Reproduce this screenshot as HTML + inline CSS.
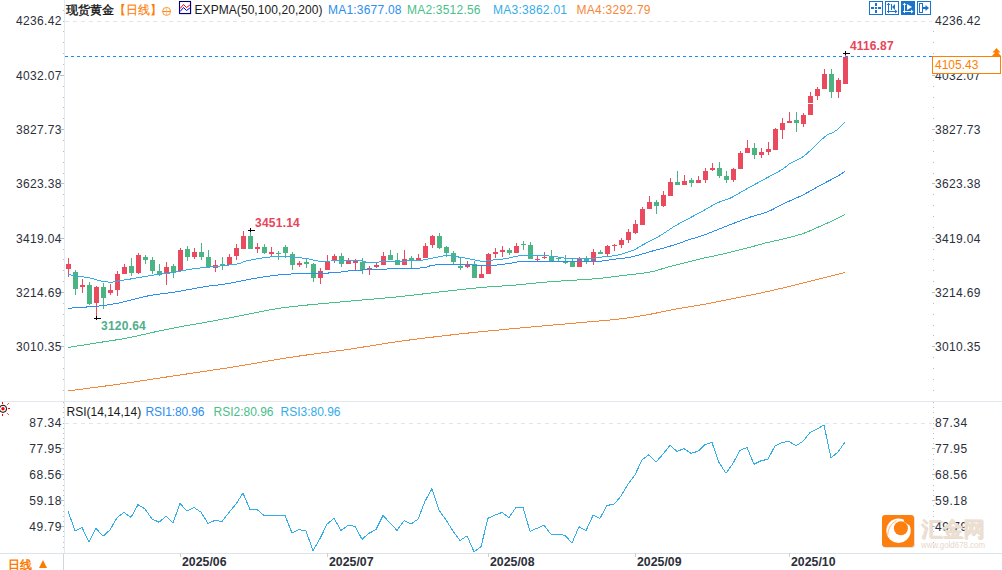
<!DOCTYPE html><html><head><meta charset="utf-8"><style>html,body{margin:0;padding:0;background:#fff;overflow:hidden}svg{display:block}text{font-family:"Liberation Sans",sans-serif}</style></head><body>
<svg width="1002" height="570" viewBox="0 0 1002 570">
<rect width="1002" height="570" fill="#fff"/>
<g shape-rendering="crispEdges">
<rect x="64" y="0" width="1" height="553" fill="#e3e8ee"/>
<rect x="63" y="554" width="1" height="16" fill="#cfd6de"/>
<rect x="0" y="401" width="1002" height="1" fill="#e3e8ee"/>
<rect x="0" y="553" width="1002" height="1" fill="#dde3ea"/>
<line x1="65" y1="21.5" x2="932" y2="21.5" stroke="#e2e6ea" stroke-width="1" stroke-dasharray="4,4"/>
<line x1="65" y1="423.5" x2="932" y2="423.5" stroke="#e2e6ea" stroke-width="1" stroke-dasharray="4,4"/>
<rect x="63" y="21" width="1" height="1" fill="#b8bec6"/>
<rect x="63" y="31" width="1" height="1" fill="#b8bec6"/>
<rect x="63" y="42" width="1" height="1" fill="#b8bec6"/>
<rect x="63" y="53" width="1" height="1" fill="#b8bec6"/>
<rect x="63" y="64" width="1" height="1" fill="#b8bec6"/>
<rect x="63" y="75" width="1" height="1" fill="#b8bec6"/>
<rect x="63" y="86" width="1" height="1" fill="#b8bec6"/>
<rect x="63" y="97" width="1" height="1" fill="#b8bec6"/>
<rect x="63" y="107" width="1" height="1" fill="#b8bec6"/>
<rect x="63" y="118" width="1" height="1" fill="#b8bec6"/>
<rect x="63" y="129" width="1" height="1" fill="#b8bec6"/>
<rect x="63" y="140" width="1" height="1" fill="#b8bec6"/>
<rect x="63" y="151" width="1" height="1" fill="#b8bec6"/>
<rect x="63" y="162" width="1" height="1" fill="#b8bec6"/>
<rect x="63" y="173" width="1" height="1" fill="#b8bec6"/>
<rect x="63" y="183" width="1" height="1" fill="#b8bec6"/>
<rect x="63" y="194" width="1" height="1" fill="#b8bec6"/>
<rect x="63" y="205" width="1" height="1" fill="#b8bec6"/>
<rect x="63" y="216" width="1" height="1" fill="#b8bec6"/>
<rect x="63" y="227" width="1" height="1" fill="#b8bec6"/>
<rect x="63" y="238" width="1" height="1" fill="#b8bec6"/>
<rect x="63" y="249" width="1" height="1" fill="#b8bec6"/>
<rect x="63" y="259" width="1" height="1" fill="#b8bec6"/>
<rect x="63" y="270" width="1" height="1" fill="#b8bec6"/>
<rect x="63" y="281" width="1" height="1" fill="#b8bec6"/>
<rect x="63" y="292" width="1" height="1" fill="#b8bec6"/>
<rect x="63" y="303" width="1" height="1" fill="#b8bec6"/>
<rect x="63" y="314" width="1" height="1" fill="#b8bec6"/>
<rect x="63" y="325" width="1" height="1" fill="#b8bec6"/>
<rect x="63" y="335" width="1" height="1" fill="#b8bec6"/>
<rect x="63" y="346" width="1" height="1" fill="#b8bec6"/>
<rect x="63" y="357" width="1" height="1" fill="#b8bec6"/>
<rect x="63" y="368" width="1" height="1" fill="#b8bec6"/>
<rect x="63" y="379" width="1" height="1" fill="#b8bec6"/>
<rect x="63" y="390" width="1" height="1" fill="#b8bec6"/>
<rect x="63" y="10" width="1" height="1" fill="#b8bec6"/>
<rect x="63" y="423" width="1" height="1" fill="#b8bec6"/>
<rect x="63" y="428" width="1" height="1" fill="#b8bec6"/>
<rect x="63" y="433" width="1" height="1" fill="#b8bec6"/>
<rect x="63" y="438" width="1" height="1" fill="#b8bec6"/>
<rect x="63" y="443" width="1" height="1" fill="#b8bec6"/>
<rect x="63" y="448" width="1" height="1" fill="#b8bec6"/>
<rect x="63" y="454" width="1" height="1" fill="#b8bec6"/>
<rect x="63" y="459" width="1" height="1" fill="#b8bec6"/>
<rect x="63" y="464" width="1" height="1" fill="#b8bec6"/>
<rect x="63" y="469" width="1" height="1" fill="#b8bec6"/>
<rect x="63" y="474" width="1" height="1" fill="#b8bec6"/>
<rect x="63" y="479" width="1" height="1" fill="#b8bec6"/>
<rect x="63" y="485" width="1" height="1" fill="#b8bec6"/>
<rect x="63" y="490" width="1" height="1" fill="#b8bec6"/>
<rect x="63" y="495" width="1" height="1" fill="#b8bec6"/>
<rect x="63" y="500" width="1" height="1" fill="#b8bec6"/>
<rect x="63" y="505" width="1" height="1" fill="#b8bec6"/>
<rect x="63" y="511" width="1" height="1" fill="#b8bec6"/>
<rect x="63" y="516" width="1" height="1" fill="#b8bec6"/>
<rect x="63" y="521" width="1" height="1" fill="#b8bec6"/>
<rect x="63" y="526" width="1" height="1" fill="#b8bec6"/>
<rect x="63" y="531" width="1" height="1" fill="#b8bec6"/>
<rect x="63" y="536" width="1" height="1" fill="#b8bec6"/>
<rect x="63" y="542" width="1" height="1" fill="#b8bec6"/>
<rect x="63" y="547" width="1" height="1" fill="#b8bec6"/>
<rect x="63" y="417" width="1" height="1" fill="#b8bec6"/>
<rect x="63" y="412" width="1" height="1" fill="#b8bec6"/>
<rect x="63" y="407" width="1" height="1" fill="#b8bec6"/>
<rect x="63" y="402" width="1" height="1" fill="#b8bec6"/>
<rect x="933" y="31" width="1" height="1" fill="#b8bec6"/>
<rect x="933" y="42" width="1" height="1" fill="#b8bec6"/>
<rect x="933" y="53" width="1" height="1" fill="#b8bec6"/>
<rect x="933" y="64" width="1" height="1" fill="#b8bec6"/>
<rect x="933" y="75" width="1" height="1" fill="#b8bec6"/>
<rect x="933" y="86" width="1" height="1" fill="#b8bec6"/>
<rect x="933" y="97" width="1" height="1" fill="#b8bec6"/>
<rect x="933" y="107" width="1" height="1" fill="#b8bec6"/>
<rect x="933" y="118" width="1" height="1" fill="#b8bec6"/>
<rect x="933" y="129" width="1" height="1" fill="#b8bec6"/>
<rect x="933" y="140" width="1" height="1" fill="#b8bec6"/>
<rect x="933" y="151" width="1" height="1" fill="#b8bec6"/>
<rect x="933" y="162" width="1" height="1" fill="#b8bec6"/>
<rect x="933" y="173" width="1" height="1" fill="#b8bec6"/>
<rect x="933" y="183" width="1" height="1" fill="#b8bec6"/>
<rect x="933" y="194" width="1" height="1" fill="#b8bec6"/>
<rect x="933" y="205" width="1" height="1" fill="#b8bec6"/>
<rect x="933" y="216" width="1" height="1" fill="#b8bec6"/>
<rect x="933" y="227" width="1" height="1" fill="#b8bec6"/>
<rect x="933" y="238" width="1" height="1" fill="#b8bec6"/>
<rect x="933" y="249" width="1" height="1" fill="#b8bec6"/>
<rect x="933" y="259" width="1" height="1" fill="#b8bec6"/>
<rect x="933" y="270" width="1" height="1" fill="#b8bec6"/>
<rect x="933" y="281" width="1" height="1" fill="#b8bec6"/>
<rect x="933" y="292" width="1" height="1" fill="#b8bec6"/>
<rect x="933" y="303" width="1" height="1" fill="#b8bec6"/>
<rect x="933" y="314" width="1" height="1" fill="#b8bec6"/>
<rect x="933" y="325" width="1" height="1" fill="#b8bec6"/>
<rect x="933" y="335" width="1" height="1" fill="#b8bec6"/>
<rect x="933" y="346" width="1" height="1" fill="#b8bec6"/>
<rect x="933" y="357" width="1" height="1" fill="#b8bec6"/>
<rect x="933" y="368" width="1" height="1" fill="#b8bec6"/>
<rect x="933" y="379" width="1" height="1" fill="#b8bec6"/>
<rect x="933" y="390" width="1" height="1" fill="#b8bec6"/>
<rect x="933" y="423" width="1" height="1" fill="#b8bec6"/>
<rect x="933" y="428" width="1" height="1" fill="#b8bec6"/>
<rect x="933" y="433" width="1" height="1" fill="#b8bec6"/>
<rect x="933" y="438" width="1" height="1" fill="#b8bec6"/>
<rect x="933" y="443" width="1" height="1" fill="#b8bec6"/>
<rect x="933" y="448" width="1" height="1" fill="#b8bec6"/>
<rect x="933" y="454" width="1" height="1" fill="#b8bec6"/>
<rect x="933" y="459" width="1" height="1" fill="#b8bec6"/>
<rect x="933" y="464" width="1" height="1" fill="#b8bec6"/>
<rect x="933" y="469" width="1" height="1" fill="#b8bec6"/>
<rect x="933" y="474" width="1" height="1" fill="#b8bec6"/>
<rect x="933" y="479" width="1" height="1" fill="#b8bec6"/>
<rect x="933" y="485" width="1" height="1" fill="#b8bec6"/>
<rect x="933" y="490" width="1" height="1" fill="#b8bec6"/>
<rect x="933" y="495" width="1" height="1" fill="#b8bec6"/>
<rect x="933" y="500" width="1" height="1" fill="#b8bec6"/>
<rect x="933" y="505" width="1" height="1" fill="#b8bec6"/>
<rect x="933" y="511" width="1" height="1" fill="#b8bec6"/>
<rect x="933" y="516" width="1" height="1" fill="#b8bec6"/>
<rect x="933" y="521" width="1" height="1" fill="#b8bec6"/>
<rect x="933" y="526" width="1" height="1" fill="#b8bec6"/>
<rect x="933" y="531" width="1" height="1" fill="#b8bec6"/>
<rect x="933" y="536" width="1" height="1" fill="#b8bec6"/>
<rect x="933" y="542" width="1" height="1" fill="#b8bec6"/>
<rect x="933" y="547" width="1" height="1" fill="#b8bec6"/>
<rect x="933" y="417" width="1" height="1" fill="#b8bec6"/>
<rect x="933" y="412" width="1" height="1" fill="#b8bec6"/>
<rect x="933" y="407" width="1" height="1" fill="#b8bec6"/>
<rect x="933" y="402" width="1" height="1" fill="#b8bec6"/>
</g>
<text x="61.5" y="25.3" font-size="12" fill="#2b2f3a" text-anchor="end" textLength="45.5" lengthAdjust="spacing">4236.42</text>
<text x="935" y="25.3" font-size="12" fill="#2b2f3a" textLength="45.5" lengthAdjust="spacing">4236.42</text>
<rect x="60" y="75" width="3" height="1" fill="#b8bec6" shape-rendering="crispEdges"/>
<text x="61.5" y="79.6" font-size="12" fill="#2b2f3a" text-anchor="end" textLength="45.5" lengthAdjust="spacing">4032.07</text>
<rect x="932" y="75" width="3" height="1" fill="#b8bec6" shape-rendering="crispEdges"/>
<text x="935" y="79.6" font-size="12" fill="#2b2f3a" textLength="45.5" lengthAdjust="spacing">4032.07</text>
<rect x="60" y="129" width="3" height="1" fill="#b8bec6" shape-rendering="crispEdges"/>
<text x="61.5" y="133.9" font-size="12" fill="#2b2f3a" text-anchor="end" textLength="45.5" lengthAdjust="spacing">3827.73</text>
<rect x="932" y="129" width="3" height="1" fill="#b8bec6" shape-rendering="crispEdges"/>
<text x="935" y="133.9" font-size="12" fill="#2b2f3a" textLength="45.5" lengthAdjust="spacing">3827.73</text>
<rect x="60" y="183" width="3" height="1" fill="#b8bec6" shape-rendering="crispEdges"/>
<text x="61.5" y="188.2" font-size="12" fill="#2b2f3a" text-anchor="end" textLength="45.5" lengthAdjust="spacing">3623.38</text>
<rect x="932" y="183" width="3" height="1" fill="#b8bec6" shape-rendering="crispEdges"/>
<text x="935" y="188.2" font-size="12" fill="#2b2f3a" textLength="45.5" lengthAdjust="spacing">3623.38</text>
<rect x="60" y="238" width="3" height="1" fill="#b8bec6" shape-rendering="crispEdges"/>
<text x="61.5" y="242.5" font-size="12" fill="#2b2f3a" text-anchor="end" textLength="45.5" lengthAdjust="spacing">3419.04</text>
<rect x="932" y="238" width="3" height="1" fill="#b8bec6" shape-rendering="crispEdges"/>
<text x="935" y="242.5" font-size="12" fill="#2b2f3a" textLength="45.5" lengthAdjust="spacing">3419.04</text>
<rect x="60" y="292" width="3" height="1" fill="#b8bec6" shape-rendering="crispEdges"/>
<text x="61.5" y="296.8" font-size="12" fill="#2b2f3a" text-anchor="end" textLength="45.5" lengthAdjust="spacing">3214.69</text>
<rect x="932" y="292" width="3" height="1" fill="#b8bec6" shape-rendering="crispEdges"/>
<text x="935" y="296.8" font-size="12" fill="#2b2f3a" textLength="45.5" lengthAdjust="spacing">3214.69</text>
<rect x="60" y="346" width="3" height="1" fill="#b8bec6" shape-rendering="crispEdges"/>
<text x="61.5" y="351.1" font-size="12" fill="#2b2f3a" text-anchor="end" textLength="45.5" lengthAdjust="spacing">3010.35</text>
<rect x="932" y="346" width="3" height="1" fill="#b8bec6" shape-rendering="crispEdges"/>
<text x="935" y="351.1" font-size="12" fill="#2b2f3a" textLength="45.5" lengthAdjust="spacing">3010.35</text>
<text x="61.5" y="427.3" font-size="12" fill="#2b2f3a" text-anchor="end" textLength="32.3" lengthAdjust="spacing">87.34</text>
<text x="935" y="427.3" font-size="12" fill="#2b2f3a" textLength="32.3" lengthAdjust="spacing">87.34</text>
<rect x="60" y="448" width="3" height="1" fill="#b8bec6" shape-rendering="crispEdges"/>
<text x="61.5" y="453.2" font-size="12" fill="#2b2f3a" text-anchor="end" textLength="32.3" lengthAdjust="spacing">77.95</text>
<rect x="932" y="448" width="3" height="1" fill="#b8bec6" shape-rendering="crispEdges"/>
<text x="935" y="453.2" font-size="12" fill="#2b2f3a" textLength="32.3" lengthAdjust="spacing">77.95</text>
<rect x="60" y="474" width="3" height="1" fill="#b8bec6" shape-rendering="crispEdges"/>
<text x="61.5" y="479.1" font-size="12" fill="#2b2f3a" text-anchor="end" textLength="32.3" lengthAdjust="spacing">68.56</text>
<rect x="932" y="474" width="3" height="1" fill="#b8bec6" shape-rendering="crispEdges"/>
<text x="935" y="479.1" font-size="12" fill="#2b2f3a" textLength="32.3" lengthAdjust="spacing">68.56</text>
<rect x="60" y="500" width="3" height="1" fill="#b8bec6" shape-rendering="crispEdges"/>
<text x="61.5" y="505.0" font-size="12" fill="#2b2f3a" text-anchor="end" textLength="32.3" lengthAdjust="spacing">59.18</text>
<rect x="932" y="500" width="3" height="1" fill="#b8bec6" shape-rendering="crispEdges"/>
<text x="935" y="505.0" font-size="12" fill="#2b2f3a" textLength="32.3" lengthAdjust="spacing">59.18</text>
<rect x="60" y="526" width="3" height="1" fill="#b8bec6" shape-rendering="crispEdges"/>
<text x="61.5" y="530.9" font-size="12" fill="#2b2f3a" text-anchor="end" textLength="32.3" lengthAdjust="spacing">49.79</text>
<rect x="932" y="526" width="3" height="1" fill="#b8bec6" shape-rendering="crispEdges"/>
<text x="935" y="530.9" font-size="12" fill="#2b2f3a" textLength="32.3" lengthAdjust="spacing">49.79</text>
<rect x="180" y="553" width="1" height="4" fill="#c9d0d8" shape-rendering="crispEdges"/>
<text x="182" y="566.3" font-size="12.3" font-weight="bold" fill="#2b2f3a" textLength="44.5" lengthAdjust="spacing">2025/06</text>
<rect x="327" y="553" width="1" height="4" fill="#c9d0d8" shape-rendering="crispEdges"/>
<text x="329" y="566.3" font-size="12.3" font-weight="bold" fill="#2b2f3a" textLength="44.5" lengthAdjust="spacing">2025/07</text>
<rect x="488" y="553" width="1" height="4" fill="#c9d0d8" shape-rendering="crispEdges"/>
<text x="490" y="566.3" font-size="12.3" font-weight="bold" fill="#2b2f3a" textLength="44.5" lengthAdjust="spacing">2025/08</text>
<rect x="635" y="553" width="1" height="4" fill="#c9d0d8" shape-rendering="crispEdges"/>
<text x="637" y="566.3" font-size="12.3" font-weight="bold" fill="#2b2f3a" textLength="44.5" lengthAdjust="spacing">2025/09</text>
<rect x="789" y="553" width="1" height="4" fill="#c9d0d8" shape-rendering="crispEdges"/>
<text x="791" y="566.3" font-size="12.3" font-weight="bold" fill="#2b2f3a" textLength="44.5" lengthAdjust="spacing">2025/10</text>
<g shape-rendering="crispEdges">
<rect x="68" y="258.0" width="1" height="19.0" fill="#ea4a5e"/>
<rect x="66" y="264.0" width="5" height="5.0" fill="#ea4a5e"/>
<rect x="75" y="270.0" width="1" height="25.0" fill="#4cb382"/>
<rect x="73" y="272.0" width="5" height="17.0" fill="#4cb382"/>
<rect x="82" y="279.0" width="1" height="14.0" fill="#ea4a5e"/>
<rect x="80" y="284.7" width="5" height="2.5" fill="#ea4a5e"/>
<rect x="89" y="282.0" width="1" height="23.0" fill="#4cb382"/>
<rect x="87" y="285.3" width="5" height="18.7" fill="#4cb382"/>
<rect x="96" y="286.0" width="1" height="32.5" fill="#ea4a5e"/>
<rect x="94" y="287.2" width="5" height="15.8" fill="#ea4a5e"/>
<rect x="103" y="283.3" width="1" height="25.5" fill="#4cb382"/>
<rect x="101" y="287.2" width="5" height="11.0" fill="#4cb382"/>
<rect x="110" y="283.7" width="1" height="11.3" fill="#ea4a5e"/>
<rect x="108" y="290.0" width="5" height="3.0" fill="#ea4a5e"/>
<rect x="117" y="271.2" width="1" height="24.5" fill="#ea4a5e"/>
<rect x="115" y="274.0" width="5" height="16.0" fill="#ea4a5e"/>
<rect x="124" y="264.0" width="1" height="10.0" fill="#ea4a5e"/>
<rect x="122" y="266.7" width="5" height="7.3" fill="#ea4a5e"/>
<rect x="131" y="258.2" width="1" height="17.8" fill="#4cb382"/>
<rect x="129" y="266.0" width="5" height="7.0" fill="#4cb382"/>
<rect x="138" y="252.8" width="1" height="21.2" fill="#ea4a5e"/>
<rect x="136" y="254.7" width="5" height="18.3" fill="#ea4a5e"/>
<rect x="145" y="254.7" width="1" height="9.3" fill="#4cb382"/>
<rect x="143" y="257.3" width="5" height="2.3" fill="#4cb382"/>
<rect x="152" y="257.0" width="1" height="17.0" fill="#4cb382"/>
<rect x="150" y="260.2" width="5" height="11.0" fill="#4cb382"/>
<rect x="159" y="264.0" width="1" height="12.0" fill="#4cb382"/>
<rect x="157" y="271.2" width="5" height="2.8" fill="#4cb382"/>
<rect x="166" y="261.5" width="1" height="23.2" fill="#ea4a5e"/>
<rect x="164" y="266.7" width="5" height="7.3" fill="#ea4a5e"/>
<rect x="173" y="264.0" width="1" height="14.0" fill="#4cb382"/>
<rect x="171" y="266.0" width="5" height="7.0" fill="#4cb382"/>
<rect x="180" y="248.0" width="1" height="23.2" fill="#ea4a5e"/>
<rect x="178" y="250.0" width="5" height="21.2" fill="#ea4a5e"/>
<rect x="187" y="246.0" width="1" height="14.5" fill="#4cb382"/>
<rect x="185" y="249.0" width="5" height="7.7" fill="#4cb382"/>
<rect x="194" y="247.8" width="1" height="11.2" fill="#ea4a5e"/>
<rect x="192" y="252.0" width="5" height="5.0" fill="#ea4a5e"/>
<rect x="201" y="243.0" width="1" height="16.7" fill="#4cb382"/>
<rect x="199" y="252.0" width="5" height="5.0" fill="#4cb382"/>
<rect x="208" y="250.0" width="1" height="17.2" fill="#4cb382"/>
<rect x="206" y="257.0" width="5" height="10.2" fill="#4cb382"/>
<rect x="215" y="259.7" width="1" height="11.9" fill="#ea4a5e"/>
<rect x="213" y="265.0" width="5" height="2.5" fill="#ea4a5e"/>
<rect x="222" y="257.0" width="1" height="12.8" fill="#4cb382"/>
<rect x="220" y="264.0" width="5" height="1.2" fill="#4cb382"/>
<rect x="229" y="254.0" width="1" height="11.0" fill="#ea4a5e"/>
<rect x="227" y="257.0" width="5" height="8.0" fill="#ea4a5e"/>
<rect x="236" y="244.0" width="1" height="15.7" fill="#ea4a5e"/>
<rect x="234" y="248.0" width="5" height="7.5" fill="#ea4a5e"/>
<rect x="243" y="231.0" width="1" height="18.0" fill="#ea4a5e"/>
<rect x="241" y="236.0" width="5" height="13.0" fill="#ea4a5e"/>
<rect x="250" y="230.0" width="1" height="19.0" fill="#4cb382"/>
<rect x="248" y="236.0" width="5" height="13.0" fill="#4cb382"/>
<rect x="257" y="243.0" width="1" height="9.6" fill="#ea4a5e"/>
<rect x="255" y="247.0" width="5" height="1.5" fill="#ea4a5e"/>
<rect x="264" y="244.0" width="1" height="10.0" fill="#4cb382"/>
<rect x="262" y="247.0" width="5" height="6.0" fill="#4cb382"/>
<rect x="271" y="247.0" width="1" height="10.0" fill="#ea4a5e"/>
<rect x="269" y="252.3" width="5" height="1.2" fill="#ea4a5e"/>
<rect x="278" y="251.0" width="1" height="8.7" fill="#4cb382"/>
<rect x="276" y="252.6" width="5" height="1.2" fill="#4cb382"/>
<rect x="285" y="245.0" width="1" height="12.5" fill="#4cb382"/>
<rect x="283" y="247.0" width="5" height="5.6" fill="#4cb382"/>
<rect x="292" y="252.0" width="1" height="18.4" fill="#4cb382"/>
<rect x="290" y="253.5" width="5" height="11.0" fill="#4cb382"/>
<rect x="299" y="260.5" width="1" height="6.7" fill="#ea4a5e"/>
<rect x="297" y="263.0" width="5" height="2.0" fill="#ea4a5e"/>
<rect x="306" y="257.5" width="1" height="10.0" fill="#4cb382"/>
<rect x="304" y="262.4" width="5" height="1.2" fill="#4cb382"/>
<rect x="313" y="263.0" width="1" height="18.8" fill="#4cb382"/>
<rect x="311" y="264.0" width="5" height="13.6" fill="#4cb382"/>
<rect x="320" y="268.0" width="1" height="15.9" fill="#ea4a5e"/>
<rect x="318" y="270.9" width="5" height="6.7" fill="#ea4a5e"/>
<rect x="327" y="255.0" width="1" height="14.8" fill="#ea4a5e"/>
<rect x="325" y="261.5" width="5" height="8.3" fill="#ea4a5e"/>
<rect x="334" y="254.0" width="1" height="9.0" fill="#ea4a5e"/>
<rect x="332" y="256.0" width="5" height="4.0" fill="#ea4a5e"/>
<rect x="341" y="253.0" width="1" height="13.9" fill="#4cb382"/>
<rect x="339" y="256.0" width="5" height="7.9" fill="#4cb382"/>
<rect x="348" y="258.0" width="1" height="5.9" fill="#ea4a5e"/>
<rect x="346" y="260.5" width="5" height="3.4" fill="#ea4a5e"/>
<rect x="355" y="259.0" width="1" height="11.1" fill="#ea4a5e"/>
<rect x="353" y="260.9" width="5" height="2.1" fill="#ea4a5e"/>
<rect x="362" y="258.0" width="1" height="15.9" fill="#4cb382"/>
<rect x="360" y="261.5" width="5" height="8.6" fill="#4cb382"/>
<rect x="369" y="266.0" width="1" height="8.6" fill="#ea4a5e"/>
<rect x="367" y="268.0" width="5" height="2.1" fill="#ea4a5e"/>
<rect x="376" y="263.0" width="1" height="5.0" fill="#ea4a5e"/>
<rect x="374" y="265.0" width="5" height="1.9" fill="#ea4a5e"/>
<rect x="383" y="252.0" width="1" height="13.0" fill="#ea4a5e"/>
<rect x="381" y="256.0" width="5" height="9.0" fill="#ea4a5e"/>
<rect x="390" y="250.0" width="1" height="9.7" fill="#4cb382"/>
<rect x="388" y="255.0" width="5" height="4.7" fill="#4cb382"/>
<rect x="397" y="253.0" width="1" height="12.0" fill="#4cb382"/>
<rect x="395" y="260.0" width="5" height="5.0" fill="#4cb382"/>
<rect x="404" y="250.0" width="1" height="15.0" fill="#ea4a5e"/>
<rect x="402" y="259.0" width="5" height="6.0" fill="#ea4a5e"/>
<rect x="411" y="256.0" width="1" height="12.0" fill="#4cb382"/>
<rect x="409" y="258.2" width="5" height="2.7" fill="#4cb382"/>
<rect x="418" y="254.0" width="1" height="7.2" fill="#ea4a5e"/>
<rect x="416" y="258.2" width="5" height="1.8" fill="#ea4a5e"/>
<rect x="425" y="243.0" width="1" height="15.0" fill="#ea4a5e"/>
<rect x="423" y="246.0" width="5" height="12.0" fill="#ea4a5e"/>
<rect x="432" y="235.0" width="1" height="12.8" fill="#ea4a5e"/>
<rect x="430" y="236.2" width="5" height="8.3" fill="#ea4a5e"/>
<rect x="439" y="233.2" width="1" height="15.8" fill="#4cb382"/>
<rect x="437" y="236.2" width="5" height="11.6" fill="#4cb382"/>
<rect x="446" y="246.3" width="1" height="10.4" fill="#4cb382"/>
<rect x="444" y="247.0" width="5" height="6.0" fill="#4cb382"/>
<rect x="453" y="251.0" width="1" height="13.2" fill="#4cb382"/>
<rect x="451" y="253.0" width="5" height="9.0" fill="#4cb382"/>
<rect x="460" y="257.5" width="1" height="12.3" fill="#4cb382"/>
<rect x="458" y="266.4" width="5" height="1.2" fill="#4cb382"/>
<rect x="467" y="261.2" width="1" height="6.8" fill="#ea4a5e"/>
<rect x="465" y="265.0" width="5" height="1.9" fill="#ea4a5e"/>
<rect x="474" y="261.2" width="1" height="17.1" fill="#4cb382"/>
<rect x="472" y="264.2" width="5" height="14.1" fill="#4cb382"/>
<rect x="481" y="266.0" width="1" height="11.9" fill="#ea4a5e"/>
<rect x="479" y="274.3" width="5" height="3.6" fill="#ea4a5e"/>
<rect x="488" y="253.0" width="1" height="21.3" fill="#ea4a5e"/>
<rect x="486" y="254.0" width="5" height="20.3" fill="#ea4a5e"/>
<rect x="495" y="248.0" width="1" height="10.0" fill="#ea4a5e"/>
<rect x="493" y="252.0" width="5" height="1.7" fill="#ea4a5e"/>
<rect x="502" y="246.0" width="1" height="10.7" fill="#ea4a5e"/>
<rect x="500" y="250.0" width="5" height="2.0" fill="#ea4a5e"/>
<rect x="509" y="248.0" width="1" height="6.5" fill="#4cb382"/>
<rect x="507" y="250.0" width="5" height="3.0" fill="#4cb382"/>
<rect x="516" y="243.0" width="1" height="9.6" fill="#ea4a5e"/>
<rect x="514" y="246.0" width="5" height="6.6" fill="#ea4a5e"/>
<rect x="523" y="241.0" width="1" height="9.0" fill="#4cb382"/>
<rect x="521" y="244.0" width="5" height="1.2" fill="#4cb382"/>
<rect x="530" y="242.0" width="1" height="17.4" fill="#4cb382"/>
<rect x="528" y="245.0" width="5" height="14.4" fill="#4cb382"/>
<rect x="537" y="255.0" width="1" height="6.0" fill="#ea4a5e"/>
<rect x="535" y="258.5" width="5" height="1.5" fill="#ea4a5e"/>
<rect x="544" y="252.0" width="1" height="7.0" fill="#ea4a5e"/>
<rect x="542" y="256.7" width="5" height="1.5" fill="#ea4a5e"/>
<rect x="551" y="250.0" width="1" height="11.2" fill="#4cb382"/>
<rect x="549" y="256.8" width="5" height="4.4" fill="#4cb382"/>
<rect x="558" y="257.4" width="1" height="3.8" fill="#4cb382"/>
<rect x="556" y="257.5" width="5" height="1.2" fill="#4cb382"/>
<rect x="565" y="254.8" width="1" height="9.0" fill="#4cb382"/>
<rect x="563" y="261.5" width="5" height="1.2" fill="#4cb382"/>
<rect x="572" y="258.9" width="1" height="7.9" fill="#4cb382"/>
<rect x="570" y="261.2" width="5" height="5.6" fill="#4cb382"/>
<rect x="579" y="257.0" width="1" height="9.8" fill="#ea4a5e"/>
<rect x="577" y="258.9" width="5" height="7.9" fill="#ea4a5e"/>
<rect x="586" y="255.9" width="1" height="7.9" fill="#4cb382"/>
<rect x="584" y="258.9" width="5" height="1.9" fill="#4cb382"/>
<rect x="593" y="248.9" width="1" height="15.9" fill="#ea4a5e"/>
<rect x="591" y="251.8" width="5" height="9.4" fill="#ea4a5e"/>
<rect x="600" y="250.0" width="1" height="3.8" fill="#4cb382"/>
<rect x="598" y="251.8" width="5" height="2.0" fill="#4cb382"/>
<rect x="607" y="244.8" width="1" height="11.1" fill="#ea4a5e"/>
<rect x="605" y="245.9" width="5" height="8.2" fill="#ea4a5e"/>
<rect x="614" y="244.0" width="1" height="6.8" fill="#ea4a5e"/>
<rect x="612" y="244.8" width="5" height="1.2" fill="#ea4a5e"/>
<rect x="621" y="238.0" width="1" height="9.8" fill="#ea4a5e"/>
<rect x="619" y="240.0" width="5" height="4.8" fill="#ea4a5e"/>
<rect x="628" y="229.0" width="1" height="13.9" fill="#ea4a5e"/>
<rect x="626" y="232.0" width="5" height="8.0" fill="#ea4a5e"/>
<rect x="635" y="220.1" width="1" height="13.9" fill="#ea4a5e"/>
<rect x="633" y="224.0" width="5" height="9.2" fill="#ea4a5e"/>
<rect x="642" y="207.1" width="1" height="17.5" fill="#ea4a5e"/>
<rect x="640" y="209.0" width="5" height="15.6" fill="#ea4a5e"/>
<rect x="649" y="196.3" width="1" height="13.1" fill="#ea4a5e"/>
<rect x="647" y="202.2" width="5" height="7.2" fill="#ea4a5e"/>
<rect x="656" y="200.1" width="1" height="13.4" fill="#4cb382"/>
<rect x="654" y="202.2" width="5" height="3.4" fill="#4cb382"/>
<rect x="663" y="191.2" width="1" height="15.5" fill="#ea4a5e"/>
<rect x="661" y="195.2" width="5" height="10.4" fill="#ea4a5e"/>
<rect x="670" y="178.3" width="1" height="17.4" fill="#ea4a5e"/>
<rect x="668" y="182.3" width="5" height="13.4" fill="#ea4a5e"/>
<rect x="677" y="171.1" width="1" height="13.4" fill="#4cb382"/>
<rect x="675" y="182.3" width="5" height="2.2" fill="#4cb382"/>
<rect x="684" y="174.8" width="1" height="9.7" fill="#ea4a5e"/>
<rect x="682" y="181.2" width="5" height="3.3" fill="#ea4a5e"/>
<rect x="691" y="178.3" width="1" height="8.4" fill="#4cb382"/>
<rect x="689" y="180.0" width="5" height="2.7" fill="#4cb382"/>
<rect x="698" y="175.9" width="1" height="6.8" fill="#ea4a5e"/>
<rect x="696" y="180.0" width="5" height="2.7" fill="#ea4a5e"/>
<rect x="705" y="167.8" width="1" height="15.5" fill="#ea4a5e"/>
<rect x="703" y="170.8" width="5" height="8.9" fill="#ea4a5e"/>
<rect x="712" y="162.9" width="1" height="7.9" fill="#ea4a5e"/>
<rect x="710" y="167.8" width="5" height="2.1" fill="#ea4a5e"/>
<rect x="719" y="161.9" width="1" height="15.9" fill="#4cb382"/>
<rect x="717" y="167.8" width="5" height="7.8" fill="#4cb382"/>
<rect x="726" y="170.8" width="1" height="11.9" fill="#4cb382"/>
<rect x="724" y="175.9" width="5" height="3.8" fill="#4cb382"/>
<rect x="733" y="167.8" width="1" height="14.0" fill="#ea4a5e"/>
<rect x="731" y="168.9" width="5" height="10.8" fill="#ea4a5e"/>
<rect x="740" y="151.0" width="1" height="17.9" fill="#ea4a5e"/>
<rect x="738" y="152.9" width="5" height="16.0" fill="#ea4a5e"/>
<rect x="747" y="140.1" width="1" height="13.1" fill="#ea4a5e"/>
<rect x="745" y="148.0" width="5" height="5.2" fill="#ea4a5e"/>
<rect x="754" y="143.1" width="1" height="15.8" fill="#4cb382"/>
<rect x="752" y="148.0" width="5" height="6.7" fill="#4cb382"/>
<rect x="761" y="148.0" width="1" height="10.0" fill="#ea4a5e"/>
<rect x="759" y="152.0" width="5" height="2.7" fill="#ea4a5e"/>
<rect x="768" y="142.0" width="1" height="13.0" fill="#ea4a5e"/>
<rect x="766" y="149.0" width="5" height="2.7" fill="#ea4a5e"/>
<rect x="775" y="128.2" width="1" height="21.8" fill="#ea4a5e"/>
<rect x="773" y="129.1" width="5" height="20.9" fill="#ea4a5e"/>
<rect x="782" y="118.2" width="1" height="20.9" fill="#ea4a5e"/>
<rect x="780" y="123.1" width="5" height="6.6" fill="#ea4a5e"/>
<rect x="789" y="112.1" width="1" height="10.6" fill="#ea4a5e"/>
<rect x="787" y="121.1" width="5" height="1.6" fill="#ea4a5e"/>
<rect x="796" y="112.1" width="1" height="19.5" fill="#4cb382"/>
<rect x="794" y="120.0" width="5" height="2.7" fill="#4cb382"/>
<rect x="803" y="113.2" width="1" height="13.6" fill="#ea4a5e"/>
<rect x="801" y="114.8" width="5" height="8.9" fill="#ea4a5e"/>
<rect x="810" y="92.1" width="1" height="22.4" fill="#ea4a5e"/>
<rect x="808" y="95.9" width="5" height="18.6" fill="#ea4a5e"/>
<rect x="817" y="87.3" width="1" height="12.2" fill="#ea4a5e"/>
<rect x="815" y="89.2" width="5" height="6.7" fill="#ea4a5e"/>
<rect x="824" y="69.0" width="1" height="19.9" fill="#ea4a5e"/>
<rect x="822" y="74.2" width="5" height="14.7" fill="#ea4a5e"/>
<rect x="831" y="69.0" width="1" height="28.9" fill="#4cb382"/>
<rect x="829" y="74.2" width="5" height="17.9" fill="#4cb382"/>
<rect x="838" y="78.2" width="1" height="19.7" fill="#ea4a5e"/>
<rect x="836" y="80.1" width="5" height="12.0" fill="#ea4a5e"/>
<rect x="845" y="53.2" width="1" height="30.5" fill="#ea4a5e"/>
<rect x="843" y="57.3" width="5" height="26.4" fill="#ea4a5e"/>
<rect x="808" y="102.5" width="5" height="1.3" fill="#fff"/>
</g>
<path d="M68.0,390.9 C76.3,389.8 99.9,386.9 117.9,384.3 C135.9,381.8 156.5,378.5 175.8,375.6 C195.1,372.7 214.4,370.0 233.7,366.9 C253.0,363.8 272.2,360.1 291.5,357.2 C310.8,354.2 331.7,351.8 349.4,349.2 C367.1,346.6 380.2,344.1 397.9,341.6 C415.6,339.1 436.5,336.6 455.8,334.4 C475.1,332.2 494.4,330.4 513.7,328.6 C533.0,326.8 554.1,325.0 571.5,323.4 C588.9,321.8 605.4,320.6 617.9,319.2 C630.4,317.8 637.1,316.6 646.8,314.9 C656.4,313.2 666.1,310.9 675.8,309.1 C685.4,307.3 695.1,306.0 704.7,304.2 C714.4,302.4 724.1,300.3 733.7,298.4 C743.4,296.5 753.0,294.7 762.6,292.6 C772.2,290.5 781.9,288.2 791.5,285.9 C801.1,283.6 811.6,280.9 820.5,278.7 C829.4,276.4 840.9,273.4 845.0,272.4" fill="none" stroke="#f5873a" stroke-width="1" shape-rendering="crispEdges"/>
<path d="M68.0,347.5 C73.3,346.6 90.0,344.0 100.0,342.4 C110.0,340.8 118.6,339.7 127.9,337.9 C137.2,336.1 146.6,333.7 155.9,331.7 C165.2,329.7 174.5,327.9 183.8,326.1 C193.1,324.4 202.1,323.0 211.8,321.2 C221.5,319.4 230.9,317.6 241.9,315.5 C252.9,313.4 265.8,310.4 277.8,308.5 C289.8,306.6 301.7,305.6 313.7,304.4 C325.7,303.2 336.0,302.4 350.0,301.1 C364.0,299.8 380.3,298.6 397.9,296.8 C415.5,295.0 441.3,291.7 455.8,290.1 C470.3,288.5 475.0,288.0 484.7,287.2 C494.4,286.4 503.1,286.1 513.7,285.2 C524.3,284.3 534.6,283.0 548.4,281.9 C562.2,280.8 583.8,279.8 596.3,278.7 C608.8,277.6 614.2,276.6 623.2,275.5 C632.2,274.4 642.6,273.5 650.0,272.1 C657.4,270.7 661.6,268.8 667.5,267.2 C673.4,265.6 679.2,264.3 685.1,262.8 C691.0,261.3 696.8,259.8 702.6,258.4 C708.5,257.0 712.3,256.5 720.2,254.6 C728.1,252.7 742.1,249.2 750.0,247.2 C757.9,245.2 761.6,243.9 767.5,242.5 C773.4,241.1 779.2,240.0 785.1,238.5 C791.0,237.0 796.8,235.7 802.6,233.7 C808.5,231.7 814.4,228.9 820.2,226.3 C826.1,223.7 833.6,220.2 837.7,218.2 C841.8,216.2 843.8,215.0 845.0,214.3" fill="none" stroke="#48c08a" stroke-width="1" shape-rendering="crispEdges"/>
<path d="M68.0,308.3 C73.3,307.9 91.6,306.8 99.9,305.9 C108.2,305.0 111.9,304.4 117.9,303.2 C123.9,302.0 129.9,300.1 135.9,298.7 C141.9,297.3 147.8,295.8 153.8,294.8 C159.8,293.8 165.8,293.4 171.8,292.5 C177.8,291.6 183.7,290.4 189.7,289.4 C195.7,288.3 201.5,287.1 207.7,286.2 C213.9,285.3 219.0,285.1 226.7,283.8 C234.4,282.5 245.4,280.0 253.9,278.5 C262.4,277.0 271.0,275.8 277.9,275.0 C284.8,274.2 288.8,274.1 295.4,273.8 C302.0,273.5 310.9,273.6 317.8,273.4 C324.7,273.2 331.3,273.0 337.0,272.5 C342.7,272.0 344.8,271.2 352.1,270.6 C359.4,270.1 369.0,269.6 380.6,269.2 C392.2,268.8 413.2,268.5 421.6,267.9 C430.0,267.3 427.4,266.1 431.1,265.5 C434.8,264.9 437.0,264.5 443.7,264.4 C450.4,264.3 463.5,264.8 471.5,265.0 C479.5,265.2 484.9,265.9 491.9,265.5 C498.9,265.1 507.5,263.5 513.4,262.8 C519.3,262.1 513.6,261.6 527.4,261.3 C541.2,261.1 582.2,261.6 596.3,261.3 C610.4,261.0 607.6,259.8 612.1,259.3 C616.6,258.8 619.2,259.0 623.2,258.4 C627.2,257.8 631.9,256.9 636.3,255.8 C640.7,254.7 645.1,253.1 649.5,251.8 C653.9,250.6 658.2,249.5 662.6,248.3 C667.0,247.1 671.2,245.9 675.8,244.4 C680.4,242.9 685.5,240.9 690.0,239.4 C694.5,237.9 697.6,237.4 702.6,235.6 C707.6,233.8 712.3,231.7 720.2,228.6 C728.1,225.5 742.1,220.0 750.0,217.2 C757.9,214.4 761.6,214.2 767.5,211.8 C773.4,209.4 779.2,205.8 785.1,203.0 C791.0,200.2 796.8,198.0 802.6,195.1 C808.5,192.2 814.4,188.6 820.2,185.4 C826.1,182.2 833.6,178.5 837.7,176.1 C841.8,173.7 843.8,172.0 845.0,171.2" fill="none" stroke="#2b8ef0" stroke-width="1" shape-rendering="crispEdges"/>
<path d="M68.0,274.5 C69.7,274.8 74.6,275.7 78.4,276.3 C82.2,276.9 87.3,277.4 90.9,278.1 C94.5,278.9 96.6,280.1 99.9,280.8 C103.2,281.5 107.7,282.1 110.7,282.2 C113.7,282.2 113.7,281.8 117.9,281.1 C122.1,280.4 129.9,279.1 135.9,278.1 C141.9,277.1 147.8,275.9 153.8,275.0 C159.8,274.1 165.8,273.6 171.8,272.7 C177.8,271.8 184.3,270.2 190.0,269.3 C195.7,268.4 200.7,268.0 206.0,267.4 C211.3,266.8 216.6,266.4 221.9,265.8 C227.2,265.2 233.9,264.6 237.9,263.8 C241.9,263.0 243.2,261.7 245.9,261.0 C248.6,260.3 249.9,260.1 253.9,259.4 C257.9,258.7 265.1,257.5 269.9,257.0 C274.7,256.5 278.7,256.2 282.7,256.2 C286.7,256.2 289.3,256.5 293.8,257.0 C298.3,257.5 305.8,258.4 309.8,259.1 C313.8,259.8 314.3,260.7 317.8,261.0 C321.3,261.3 327.4,261.1 330.6,261.0 C333.8,260.9 332.1,260.3 337.0,260.2 C341.9,260.1 354.7,259.9 359.8,260.3 C364.9,260.7 362.8,262.1 367.8,262.3 C372.8,262.5 381.0,261.8 389.7,261.5 C398.4,261.2 413.1,260.9 420.0,260.4 C426.9,259.9 426.4,259.2 430.8,258.4 C435.2,257.6 442.1,255.9 446.3,255.6 C450.5,255.3 451.9,256.0 455.9,256.6 C459.9,257.2 465.9,258.2 470.3,259.0 C474.7,259.8 478.7,261.1 482.3,261.3 C485.9,261.5 487.9,260.6 491.9,260.1 C495.9,259.7 501.2,259.4 506.2,258.6 C511.2,257.9 514.3,256.0 521.8,255.6 C529.3,255.2 544.7,255.8 551.1,256.1 C557.5,256.4 556.9,257.0 560.0,257.4 C563.1,257.8 564.5,258.4 569.5,258.6 C574.5,258.8 584.2,258.9 590.0,258.6 C595.8,258.3 600.9,257.0 604.2,256.6 C607.5,256.2 607.6,256.5 610.0,256.2 C612.4,255.9 615.9,255.6 618.8,254.9 C621.7,254.2 625.0,253.1 627.5,252.3 C630.0,251.5 631.5,251.1 633.7,250.1 C635.9,249.1 638.1,247.6 640.7,246.1 C643.3,244.6 646.6,242.8 649.5,241.3 C652.4,239.8 655.3,238.6 658.2,236.9 C661.1,235.2 664.1,233.1 667.0,231.2 C669.9,229.3 672.9,227.2 675.8,225.5 C678.7,223.8 680.1,223.1 684.6,220.7 C689.1,218.3 697.2,214.0 702.6,211.1 C708.0,208.2 712.0,205.4 716.7,203.2 C721.4,201.0 726.0,200.1 730.7,197.9 C735.4,195.7 738.6,193.4 744.7,190.0 C750.8,186.6 761.3,180.9 767.5,177.5 C773.7,174.1 778.3,171.9 782.1,169.5 C785.9,167.1 787.2,165.2 790.5,163.2 C793.8,161.2 798.2,160.0 802.1,157.4 C806.0,154.8 809.8,150.9 813.7,147.4 C817.6,143.9 822.1,138.8 825.3,136.3 C828.4,133.8 830.6,133.7 832.6,132.6 C834.6,131.5 835.3,131.3 837.4,129.5 C839.5,127.7 843.7,123.2 845.0,122.0" fill="none" stroke="#32ade8" stroke-width="1" shape-rendering="crispEdges"/>
<polyline points="68.0,511.0 75.0,530.8 82.0,527.4 89.0,542.3 96.0,528.4 103.0,536.3 110.0,529.9 117.0,517.7 124.0,512.5 131.0,517.4 138.0,504.6 145.0,509.0 152.0,518.9 159.0,522.2 166.0,516.2 173.0,522.9 180.0,503.5 187.0,511.0 194.0,507.5 201.0,512.2 208.0,523.4 215.0,520.4 222.0,521.4 229.0,512.5 236.0,504.0 243.0,493.1 250.0,509.5 257.0,509.5 264.0,515.5 271.0,515.5 278.0,515.5 285.0,515.5 292.0,532.9 299.0,529.6 306.0,531.1 313.0,550.5 320.0,538.6 327.0,524.2 334.0,518.4 341.0,530.4 348.0,525.4 355.0,526.3 362.0,539.3 369.0,533.3 376.0,529.6 383.0,515.5 390.0,522.9 397.0,530.4 404.0,520.7 411.0,524.0 418.0,519.2 425.0,501.3 432.0,488.6 439.0,510.2 446.0,519.9 453.0,531.0 460.0,540.6 467.0,535.8 474.0,551.7 481.0,546.7 488.0,518.3 495.0,515.0 502.0,512.5 509.0,517.5 516.0,507.5 523.0,507.5 530.0,531.3 537.0,528.3 544.0,525.3 551.0,534.2 558.0,534.2 565.0,535.3 572.0,543.0 579.0,526.7 586.0,530.8 593.0,515.3 600.0,518.3 607.0,505.4 614.0,504.3 621.0,496.0 628.0,484.2 635.0,475.0 642.0,459.7 649.0,454.7 656.0,462.0 663.0,454.2 670.0,445.3 677.0,451.3 684.0,448.7 691.0,453.3 698.0,451.3 705.0,444.7 712.0,442.5 719.0,462.5 726.0,473.3 733.0,463.3 740.0,450.3 747.0,447.5 754.0,464.2 761.0,460.8 768.0,459.2 775.0,445.8 782.0,442.5 789.0,441.3 796.0,445.8 803.0,441.3 810.0,432.5 817.0,429.2 824.0,425.0 831.0,458.0 838.0,452.0 845.0,442.0" fill="none" stroke="#32ade8" stroke-width="1" shape-rendering="crispEdges"/>
<line x1="65" y1="56.5" x2="932" y2="56.5" stroke="#1e88ff" stroke-width="1" stroke-dasharray="3,3" shape-rendering="crispEdges"/>
<rect x="932.5" y="56.5" width="68" height="17" fill="#fff" stroke="#ff7f00" stroke-width="1"/>
<text x="935" y="69" font-size="12" fill="#ff7f00">4105.43</text>
<path d="M992.5,52.5 L996.5,48 L1000.5,52.5 Z M991.5,56.5 L996.5,51 L1001.5,56.5 Z" fill="#ff7f00"/>
<g fill="#000" shape-rendering="crispEdges"><rect x="843" y="53" width="7" height="1"/><rect x="845" y="51" width="1" height="4"/></g>
<text x="850" y="50" font-size="12" font-weight="bold" fill="#e8445a" textLength="43.6" lengthAdjust="spacing">4116.87</text>
<g fill="#000" shape-rendering="crispEdges"><rect x="248" y="230" width="7" height="1"/><rect x="250" y="228" width="1" height="4"/></g>
<text x="255" y="227" font-size="12" font-weight="bold" fill="#e8445a" textLength="44.8" lengthAdjust="spacing">3451.14</text>
<g fill="#000" shape-rendering="crispEdges"><rect x="94" y="318" width="7" height="1"/><rect x="96" y="316" width="1" height="4"/></g>
<text x="101" y="330" font-size="12" font-weight="bold" fill="#4fae8c" textLength="44.8" lengthAdjust="spacing">3120.64</text>
<text x="65.5" y="14" font-size="12" fill="#111" stroke="#111" stroke-width="0.35" textLength="48.5" lengthAdjust="spacingAndGlyphs">现货黄金</text>
<text x="113.5" y="14" font-size="12" fill="#ff7a00" stroke="#ff7a00" stroke-width="0.15">【日线】</text>
<circle cx="166.6" cy="11.4" r="4" fill="none" stroke="#ff8a1a" stroke-width="0.9"/><path d="M162.6,11.5 H170.6" stroke="#ff8a1a" stroke-width="1.1"/><path d="M166.6,7.4 V15.4" stroke="#ffb070" stroke-width="0.7"/>
<rect x="180.5" y="2.5" width="11" height="12" fill="#b0a8a0" opacity="0.5"/><rect x="179.5" y="1.5" width="11" height="12" fill="#fff" stroke="#000080" stroke-width="1.1"/><path d="M180.2,8.5 L183.5,4.5 L186.5,7.5 L189.5,5.3 H190" fill="none" stroke="#ff0000" stroke-width="1"/><path d="M180.2,11.5 L183.5,7.5 L186.5,10.5 L189.5,8.3 H190" fill="none" stroke="#0000ff" stroke-width="1"/>
<text x="194.5" y="14" font-size="12" fill="#1a1a1a" textLength="128" lengthAdjust="spacing">EXPMA(50,100,20,200)</text>
<text x="328" y="14" font-size="12" fill="#2b8ef0" textLength="73.5" lengthAdjust="spacing">MA1:3677.08</text>
<text x="407" y="14" font-size="12" fill="#48c08a" textLength="73.5" lengthAdjust="spacing">MA2:3512.56</text>
<text x="493" y="14" font-size="12" fill="#32ade8" textLength="74" lengthAdjust="spacing">MA3:3862.01</text>
<text x="576.5" y="14" font-size="12" fill="#f5873a" textLength="74" lengthAdjust="spacing">MA4:3292.79</text>
<g fill="none" stroke="#1a74cc" stroke-width="1" shape-rendering="crispEdges">
<rect x="869.5" y="1.5" width="13" height="13"/>
<rect x="885.5" y="1.5" width="13" height="13"/>
<rect x="917.5" y="1.5" width="13" height="13"/>
<rect x="919.5" y="3.5" width="3" height="9"/>
</g>
<rect x="901" y="1" width="14" height="14" fill="#1a74cc"/>
<g fill="#1a74cc" shape-rendering="crispEdges"><rect x="875" y="3" width="2" height="3"/><rect x="875" y="7" width="2" height="2"/><rect x="875" y="10" width="2" height="3"/><rect x="871" y="7" width="3" height="2"/><rect x="878" y="7" width="3" height="2"/><rect x="888" y="3" width="1" height="10"/><rect x="887" y="11" width="10" height="1"/><rect x="891" y="4" width="1" height="6"/><rect x="923" y="7" width="3" height="2"/></g>
<g fill="#1a74cc"><path d="M886.5,5 L888.5,3 L890.5,5 Z"/><path d="M895,9.5 L897.5,11.5 L895,13.5 Z"/><path d="M895,4 L892,7 L895,10 Z"/><path d="M925.5,5 L929,8 L925.5,11 Z"/></g>
<g fill="#fff" shape-rendering="crispEdges"><rect x="904" y="3" width="1" height="10"/><rect x="903" y="11" width="10" height="1"/></g>
<g fill="#fff"><path d="M902.5,5 L904.5,3 L906.5,5 Z"/><path d="M911,9.5 L913.5,11.5 L911,13.5 Z"/><path d="M907,4 L912,7 L907,10 Z"/></g>
<text x="66.5" y="416" font-size="12" fill="#1a1a1a">RSI(14,14,14)</text>
<text x="145.5" y="416" font-size="12" fill="#2b8ef0" textLength="59" lengthAdjust="spacing">RSI1:80.96</text>
<text x="213.5" y="416" font-size="12" fill="#48c08a">RSI2:80.96</text>
<text x="280.5" y="416" font-size="12" fill="#32ade8" textLength="60" lengthAdjust="spacing">RSI3:80.96</text>
<circle cx="3" cy="408.8" r="3.6" fill="#fff" stroke="#000" stroke-width="1"/><circle cx="3" cy="408.8" r="1.7" fill="#f00"/>
<g fill="#f00" shape-rendering="crispEdges"><rect x="2" y="402" width="1" height="2"/><rect x="2" y="414" width="1" height="2"/><rect x="8" y="408" width="2" height="1"/></g>
<path d="M7.3,404.7 L8.7,403.3 M7.3,413.3 L8.7,414.7" stroke="#f00" stroke-width="1"/>
<text x="8" y="569" font-size="12" font-weight="bold" fill="#ff7a00">日线</text>
<path d="M39,568 L43,560 L47,568 Z" fill="#ff7a00"/>
<rect x="883" y="516" width="32" height="32" rx="3" fill="#b9a89a" opacity="0.35"/>
<rect x="882" y="515" width="32" height="32" rx="3" fill="#fd7f10"/>
<circle cx="898.5" cy="530.7" r="12.2" fill="#fff"/><circle cx="900.9" cy="528.3" r="7" fill="#fd7f10"/>
<path d="M903.5,521.3 L906,516 L913,519 L909.5,525.5 Z" fill="#fd7f10"/>
<path d="M887.6,535 Q888.5,524.5 896.5,520.5" fill="none" stroke="#fd7f10" stroke-width="0.7" opacity="0.8"/>
<text x="921.5" y="536.5" font-size="21" font-weight="bold" fill="#c9b9aa" opacity="0.5" textLength="64" lengthAdjust="spacingAndGlyphs">汇金网</text>
<text x="920.5" y="535.5" font-size="21" font-weight="bold" fill="#eedfd1" textLength="64" lengthAdjust="spacingAndGlyphs">汇金网</text>
<text x="921" y="547.5" font-size="8.5" fill="#e6d8cb" textLength="64" lengthAdjust="spacingAndGlyphs">www.gold678.com</text>
</svg></body></html>
